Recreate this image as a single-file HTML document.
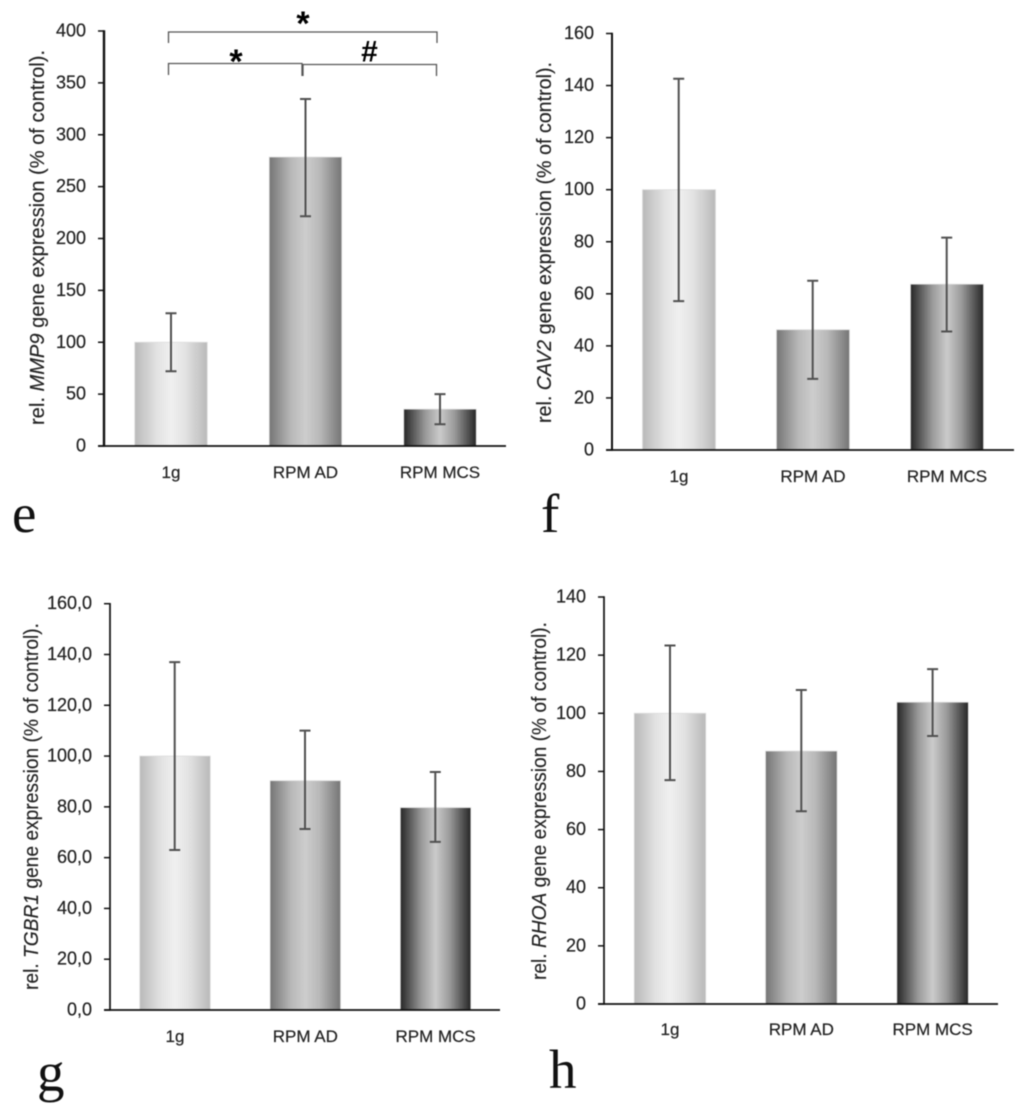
<!DOCTYPE html>
<html lang="en">
<head>
<meta charset="utf-8">
<title>Relative gene expression charts</title>
<style>
  html, body { margin: 0; padding: 0; background: #fff; }
  svg { display: block; filter: blur(0.5px); }
  text { font-family: "Liberation Sans", sans-serif; fill: #222; }
  .panel-letter { font-family: "Liberation Serif", serif; font-size: 55px; fill: #111; }
  .tick-label { font-size: 18px; text-anchor: end; stroke: #222; stroke-width: 0.2px; }
  .cat-label { font-size: 17px; text-anchor: middle; stroke: #222; stroke-width: 0.2px; }
  .y-title { font-size: 20px; stroke: #222; stroke-width: 0.15px; }
  .sig { fill: #000; text-anchor: middle; font-weight: bold; }
</style>
</head>
<body>
<svg id="figure" xmlns="http://www.w3.org/2000/svg" width="1024" height="1113" viewBox="0 0 1024 1113">
  <defs>
    <linearGradient id="grad-0" x1="0" x2="1" y1="0" y2="0">
      <stop offset="0" stop-color="#b9b9b9"/><stop offset="0.3" stop-color="#e2e2e2"/><stop offset="0.5" stop-color="#f0f0f0"/><stop offset="0.7" stop-color="#e2e2e2"/><stop offset="1" stop-color="#b9b9b9"/>
    </linearGradient>
    <linearGradient id="grad-1" x1="0" x2="1" y1="0" y2="0">
      <stop offset="0" stop-color="#757575"/><stop offset="0.3" stop-color="#b8b8b8"/><stop offset="0.5" stop-color="#cdcdcd"/><stop offset="0.7" stop-color="#b8b8b8"/><stop offset="1" stop-color="#757575"/>
    </linearGradient>
    <linearGradient id="grad-2" x1="0" x2="1" y1="0" y2="0">
      <stop offset="0" stop-color="#262626"/><stop offset="0.3" stop-color="#9a9a9a"/><stop offset="0.5" stop-color="#cbcbcb"/><stop offset="0.7" stop-color="#9a9a9a"/><stop offset="1" stop-color="#262626"/>
    </linearGradient>
  </defs>

  <g fill="none" stroke="#555" stroke-width="1.3">
    <path d="M168.5 43V32H437V43"/>
    <path d="M168.5 75V63.5H302V76"/>
    <path d="M303 76V64.5H436.5V76"/>
  </g>
  <text class="sig" x="303" y="35" font-size="34">*</text>
  <text class="sig" x="236" y="73" font-size="34">*</text>
  <text class="sig" x="369.5" y="61.5" font-size="30">#</text>

  <text class="panel-letter" x="12" y="532">e</text>
  <text class="panel-letter" x="541" y="532">f</text>
  <text class="panel-letter" x="37" y="1091">g</text>
  <text class="panel-letter" x="549" y="1088">h</text>
</svg>

<script>
const categories = ["1g", "RPM AD", "RPM MCS"];

const ticksE = ["0", "50", "100", "150", "200", "250", "300", "350", "400"];
const meansE = [100, 278.5, 35.5];
const errLowE = [72, 221.5, 21];
const errHighE = [128, 334.5, 50];

const ticksF = ["0", "20", "40", "60", "80", "100", "120", "140", "160"];
const meansF = [100, 46.2, 63.7];
const errLowF = [57.2, 27.3, 45.5];
const errHighF = [142.6, 65, 81.6];

const ticksG = ["0,0", "20,0", "40,0", "60,0", "80,0", "100,0", "120,0", "140,0", "160,0"];
const meansG = [100, 90.3, 79.7];
const errLowG = [63, 71.3, 66.2];
const errHighG = [137, 110, 93.7];

const ticksH = ["0", "20", "40", "60", "80", "100", "120", "140"];
const meansH = [100, 87, 103.8];
const errLowH = [77, 66.3, 92.2];
const errHighH = [123.3, 108, 115.2];

const NS = "http://www.w3.org/2000/svg";
const figure = document.getElementById("figure");

function mk(parent, tag, attrs) {
  const el = document.createElementNS(NS, tag);
  for (const k in attrs) el.setAttribute(k, attrs[k]);
  parent.appendChild(el);
  return el;
}

function drawPanel(p) {
  const tickValues = p.ticks.map(t => parseFloat(t.replace(",", ".")));
  const maxV = tickValues[tickValues.length - 1];
  const yScale = v => p.y0 - (v / maxV) * (p.y0 - p.yTop);
  const xScale = i => p.xFirst + i * p.step;

  const g = mk(figure, "g", {});
  
  

  // bars
  p.means.forEach((m, i) => {
    const bar = mk(g, "rect", {
      x: xScale(i) - p.barW / 2, y: yScale(m), width: p.barW, height: p.y0 - yScale(m),
      fill: "url(#grad-" + i + ")", stroke: "#dcdcdc", "stroke-width": 0.8
    });
    
    
  });

  // error bars
  p.means.forEach((m, i) => {
    const cx = xScale(i) + p.errShift;
    const e = mk(g, "path", {
      d: "M" + cx + " " + yScale(p.errHigh[i]) + "V" + yScale(p.errLow[i]) +
         "M" + (cx - 5.5) + " " + yScale(p.errHigh[i]) + "H" + (cx + 5.5) +
         "M" + (cx - 5.5) + " " + yScale(p.errLow[i]) + "H" + (cx + 5.5),
      fill: "none", stroke: "#505050", "stroke-width": 2
    });
    
    
  });

  // y axis and ticks
  const yAxis = mk(g, "line", {
    x1: p.axisX, x2: p.axisX, y1: p.yTop - 0.75, y2: p.y0 + 0.75, stroke: "#111", "stroke-width": p.axisW
  });
  
  

  const xAxis = mk(g, "line", {
    x1: p.axisX - 6, x2: p.xEnd, y1: p.y0, y2: p.y0, stroke: "#111", "stroke-width": 1.7
  });
  
  

  p.ticks.forEach((label, i) => {
    const y = yScale(tickValues[i]);
    const tick = mk(g, "line", {
      x1: p.axisX - 6, x2: p.axisX, y1: y, y2: y, stroke: "#111", "stroke-width": 1.5
    });
    
    
    const t = mk(g, "text", { x: p.axisX - 18, y: y + 5.5, class: "tick-label" });
    
    
    t.textContent = label;
  });

  // category labels
  categories.forEach((c, i) => {
    const t = mk(g, "text", { x: xScale(i), y: p.catY, class: "cat-label" });
    
    
    t.textContent = c;
  });

  // y axis title
  const title = mk(g, "text", {
    class: "y-title",
    transform: "translate(" + p.titleX + " " + p.titleY + ") rotate(-90)",
    textLength: p.titleLen, lengthAdjust: "spacingAndGlyphs"
  });
  
  
  title.appendChild(document.createTextNode("rel. "));
  const gene = mk(title, "tspan", { "font-style": "italic" });
  gene.textContent = p.gene;
  title.appendChild(document.createTextNode(" gene expression (% of control)."));
}

drawPanel({ name: "chart-mmp9", gene: "MMP9", ticks: ticksE, means: meansE, errLow: errLowE, errHigh: errHighE,
  axisX: 104, axisW: 2.4, xEnd: 506, y0: 446, yTop: 31, xFirst: 171, step: 134.5, barW: 72.5, errShift: 0,
  catY: 478, titleX: 44, titleY: 425, titleLen: 375 });

drawPanel({ name: "chart-cav2", gene: "CAV2", ticks: ticksF, means: meansF, errLow: errLowF, errHigh: errHighF,
  axisX: 612, axisW: 2, xEnd: 1014, y0: 450, yTop: 33.5, xFirst: 679, step: 134, barW: 73, errShift: -0.3,
  catY: 482, titleX: 551, titleY: 423, titleLen: 361 });

drawPanel({ name: "chart-tgbr1", gene: "TGBR1", ticks: ticksG, means: meansG, errLow: errLowG, errHigh: errHighG,
  axisX: 110, axisW: 1.7, xEnd: 500, y0: 1010, yTop: 603.7, xFirst: 175, step: 130.3, barW: 70.5, errShift: -0.3,
  catY: 1042, titleX: 38, titleY: 990, titleLen: 367 });

drawPanel({ name: "chart-rhoa", gene: "RHOA", ticks: ticksH, means: meansH, errLow: errLowH, errHigh: errHighH,
  axisX: 604, axisW: 1.7, xEnd: 998, y0: 1004, yTop: 597, xFirst: 670, step: 131.3, barW: 71.5, errShift: 0,
  catY: 1035, titleX: 546, titleY: 980, titleLen: 358 });
</script>
</body>
</html>
